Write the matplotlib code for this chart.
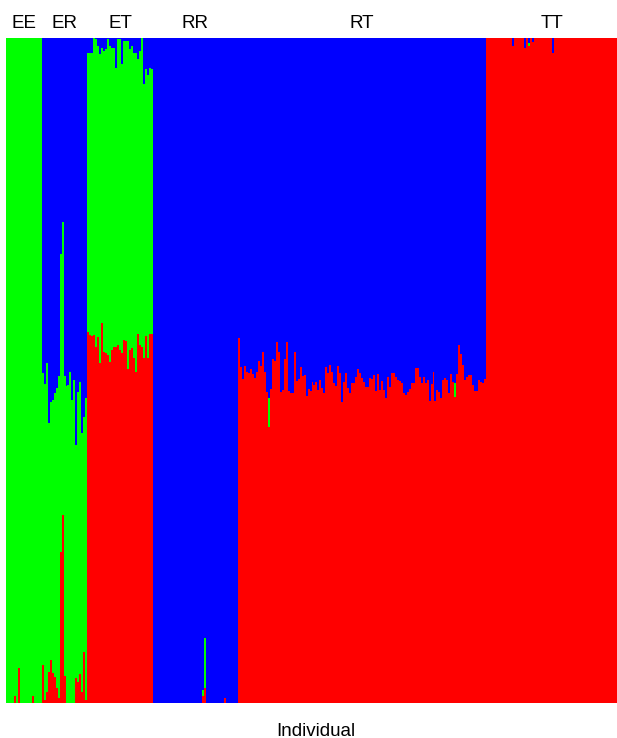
import matplotlib
matplotlib.use("Agg")
import matplotlib.pyplot as plt
import numpy as np

plt.rcParams['font.family'] = ['Liberation Sans', 'DejaVu Sans']

groups = ["EE", "ER", "ET", "RR", "RT", "TT"]

# ancestry proportions per individual: red (cluster 1), green (cluster 2); blue = remainder
EE_red = [0, 0, 0, 0, 0.011, 0, 0.053, 0, 0, 0, 0, 0, 0, 0.011, 0, 0, 0, 0]
EE_green = [1, 1, 1, 1, 0.989, 1, 0.947, 1, 1, 1, 1, 1, 1, 0.989, 1, 1, 1, 1]

ER_red = [0.057, 0.005, 0.017, 0.047, 0.065, 0.045, 0.039, 0.023, 0.008, 0.227, 0.283,
          0.041, 0, 0, 0, 0, 0, 0.038, 0.032, 0.044, 0.017, 0.077, 0.005]
ER_green = [0.439, 0.474, 0.495, 0.374, 0.388, 0.411, 0.427, 0.451, 0.484, 0.448, 0.441,
            0.451, 0.477, 0.478, 0.498, 0.456, 0.486, 0.350, 0.435, 0.438, 0.389, 0.353, 0.453]

ET_red = [0.558, 0.553, 0.552, 0.553, 0.535, 0.550, 0.511, 0.571, 0.528, 0.526, 0.523,
          0.513, 0.531, 0.535, 0.535, 0.538, 0.531, 0.526, 0.546, 0.544, 0.502, 0.531,
          0.534, 0.519, 0.498, 0.555, 0.538, 0.535, 0.519, 0.552, 0.519, 0.555, 0.555]
ET_green = [0.420, 0.424, 0.426, 0.447, 0.463, 0.438, 0.465, 0.414, 0.453, 0.457, 0.475,
            0.475, 0.454, 0.450, 0.420, 0.460, 0.468, 0.435, 0.450, 0.451, 0.493, 0.453,
            0.454, 0.459, 0.480, 0.414, 0.442, 0.465, 0.412, 0.402, 0.426, 0.400, 0.398]

RR_red = [0, 0, 0, 0, 0, 0, 0, 0, 0, 0,
          0, 0, 0, 0, 0, 0, 0, 0, 0, 0,
          0, 0, 0, 0, 0, 0.011, 0.023, 0, 0, 0,
          0, 0, 0, 0, 0, 0, 0.008, 0, 0, 0,
          0, 0, 0]
RR_green = [0, 0, 0, 0, 0, 0, 0, 0, 0, 0,
            0, 0, 0, 0, 0, 0, 0, 0, 0, 0,
            0, 0, 0, 0, 0, 0.009, 0.074, 0, 0, 0,
            0, 0, 0, 0, 0, 0, 0, 0, 0, 0,
            0, 0, 0]

RT_red = [0.549, 0.505, 0.487, 0.507, 0.498, 0.496, 0.502, 0.495, 0.489, 0.498,
          0.514, 0.507, 0.528, 0.498, 0.468, 0.415, 0.472, 0.517, 0.514, 0.543,
          0.528, 0.468, 0.471, 0.517, 0.543, 0.469, 0.466, 0.466, 0.528, 0.484,
          0.487, 0.505, 0.492, 0.493, 0.462, 0.472, 0.469, 0.483, 0.478, 0.483,
          0.471, 0.486, 0.474, 0.466, 0.505, 0.496, 0.508, 0.498, 0.481, 0.477,
          0.507, 0.496, 0.453, 0.483, 0.496, 0.474, 0.466, 0.481, 0.481, 0.490,
          0.502, 0.496, 0.489, 0.483, 0.475, 0.475, 0.489, 0.487, 0.493, 0.469,
          0.495, 0.471, 0.484, 0.471, 0.459, 0.490, 0.475, 0.496, 0.496, 0.490,
          0.486, 0.484, 0.481, 0.466, 0.463, 0.468, 0.472, 0.481, 0.481, 0.504,
          0.504, 0.490, 0.481, 0.490, 0.481, 0.486, 0.454, 0.480, 0.498, 0.454,
          0.471, 0.468, 0.459, 0.486, 0.489, 0.486, 0.466, 0.495, 0.483, 0.460,
          0.495, 0.538, 0.525, 0.508, 0.486, 0.490, 0.493, 0.493, 0.478, 0.469,
          0.469, 0.486, 0.483, 0.481, 0.487]
RT_green = [0, 0, 0, 0, 0, 0, 0, 0, 0, 0,
            0, 0, 0, 0, 0, 0.044, 0, 0, 0, 0,
            0, 0, 0, 0, 0, 0, 0, 0, 0, 0,
            0, 0, 0, 0, 0, 0, 0, 0, 0, 0,
            0, 0, 0, 0, 0, 0, 0, 0, 0, 0,
            0, 0, 0, 0, 0, 0, 0, 0, 0, 0,
            0, 0, 0, 0, 0, 0, 0, 0, 0, 0,
            0, 0, 0, 0, 0, 0, 0, 0, 0, 0,
            0, 0, 0, 0, 0, 0, 0, 0, 0, 0,
            0, 0, 0, 0, 0, 0, 0, 0, 0, 0,
            0, 0, 0, 0, 0, 0, 0, 0, 0, 0.021,
            0, 0, 0, 0, 0, 0, 0, 0, 0, 0,
            0, 0, 0, 0, 0]

TT_red = [1, 1, 1, 1, 1, 1, 1, 1, 1, 1,
          1, 1, 1, 0.988, 1, 1, 1, 1, 1, 0.985,
          1, 0.988, 1, 0.994, 1, 1, 1, 1, 1, 1,
          1, 1, 1, 0.977, 1, 1, 1, 1, 1, 1,
          1, 1, 1, 1, 1, 1, 1, 1, 1, 1,
          1, 1, 1, 1, 1, 1, 1, 1, 1, 1,
          1, 1, 1, 1, 1, 1]
TT_green = [0, 0, 0, 0, 0, 0, 0, 0, 0, 0,
            0, 0, 0, 0, 0, 0, 0, 0, 0, 0,
            0, 0.004, 0, 0, 0, 0, 0, 0, 0, 0,
            0, 0, 0, 0, 0, 0, 0, 0, 0, 0,
            0, 0, 0, 0, 0, 0, 0, 0, 0, 0,
            0, 0, 0, 0, 0, 0, 0, 0, 0, 0,
            0, 0, 0, 0, 0, 0]

reds = [EE_red, ER_red, ET_red, RR_red, RT_red, TT_red]
greens = [EE_green, ER_green, ET_green, RR_green, RT_green, TT_green]

red = np.concatenate([np.array(r, float) for r in reds])
green = np.concatenate([np.array(g, float) for g in greens])
blue = np.clip(1 - red - green, 0, 1)
sizes = [len(r) for r in reds]
n = len(red)
x = np.arange(n)

W, H = 617, 738
fig = plt.figure(figsize=(W / 100, H / 100), dpi=100)
ax = fig.add_axes([6 / W, 35 / H, 611 / W, 665 / H])

kw = dict(width=1.0, linewidth=0, antialiased=False, align='center')
ax.bar(x, red, color='#ff0000', **kw)
ax.bar(x, green, bottom=red, color='#00ff00', **kw)
ax.bar(x, blue, bottom=red + green, color='#0000ff', **kw)

ax.set_xlim(-0.5, n - 0.5)
ax.set_ylim(0, 1)
ax.axis('off')

start = 0
for g, s in zip(groups, sizes):
    ax.text(start + s / 2 - 0.5, 1.0 + 14 / 665, g, ha='center', va='center',
            fontsize=13.5, transform=ax.transData, clip_on=False)
    start += s

fig.text(316 / W, 1 - 731 / H, "Individual", ha='center', va='center', fontsize=13.5)

fig.savefig("out.png", dpi=100)
